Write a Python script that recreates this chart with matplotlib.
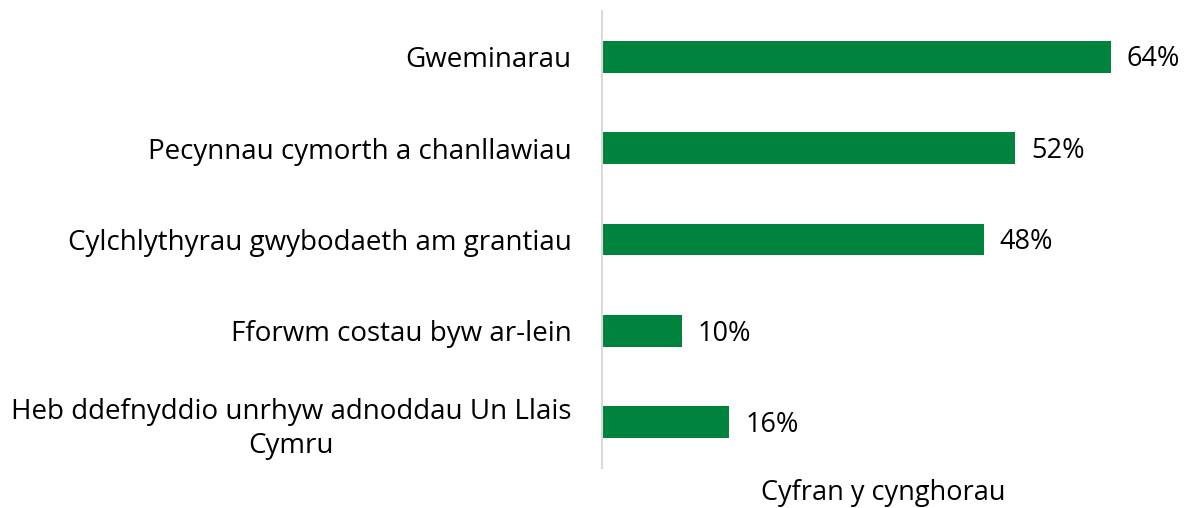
import matplotlib
matplotlib.use("Agg")
import matplotlib.pyplot as plt

categories = ["Gweminarau", "Pecynnau cymorth a chanllawiau",
              "Cylchlythyrau gwybodaeth am grantiau", "Fforwm costau byw ar-lein",
              "Heb ddefnyddio unrhyw adnoddau Un Llais\nCymru"]
values = [64, 52, 48, 10, 16]
value_labels = ["64%", "52%", "48%", "10%", "16%"]

plt.rcParams['font.family'] = ['Open Sans', 'DejaVu Sans']

fig = plt.figure(figsize=(11.87, 5.08), dpi=100)
ax = fig.add_axes([602/1187, 1 - 468/508, (1180-602)/1187, (468-11)/508])

y = list(range(len(categories)))
ax.barh(y, values, height=0.35, color="#00843D")
ax.set_ylim(len(categories) - 0.5, -0.5)
ax.set_xlim(0, 72.7)
for yi, v, lab in zip(y, values, value_labels):
    ax.text(v + 2.0, yi + 0.03, lab, va="center", ha="left", fontsize=19.5, color="#000000")

ax.set_yticks(y)
ax.set_yticklabels(categories, fontsize=20, ha="right", multialignment="center",
                   linespacing=1.3)
ax.tick_params(axis="y", length=0, pad=22)
ax.set_xticks([])
for s in ["top", "right", "bottom"]:
    ax.spines[s].set_visible(False)
ax.spines["left"].set_color("#d9d9d9")
ax.spines["left"].set_linewidth(1.5)
ax.set_xlabel("Cyfran y cynghorau", fontsize=19.5)
ax.xaxis.set_label_coords(0.486, -0.025)
ax.xaxis.label.set_va("top")

fig.savefig("out.png", dpi=100)
